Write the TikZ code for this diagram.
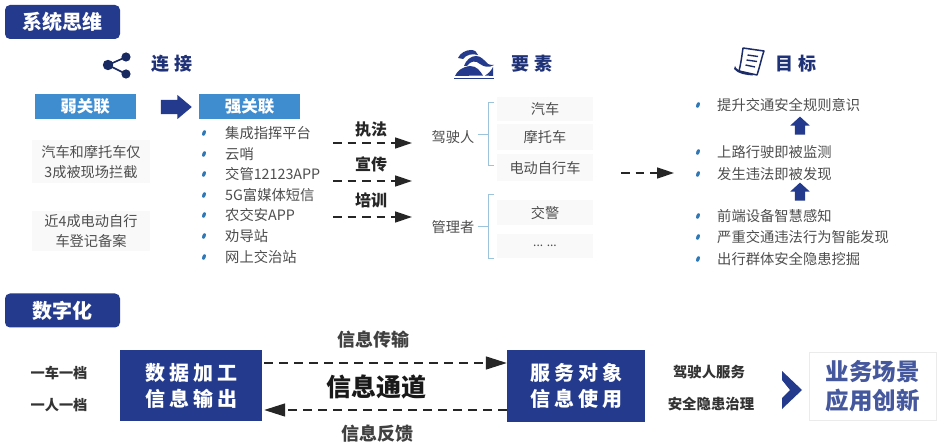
\documentclass[tikz,border=0pt]{standalone}
\usepackage{fontspec}
\setmainfont{Noto Sans CJK SC}
\newfontfamily\wide[LetterSpace=30]{Noto Sans CJK SC}
\newfontfamily\widesm[LetterSpace=20]{Noto Sans CJK SC}
\usetikzlibrary{arrows.meta,shapes.geometric,shapes.arrows}
\definecolor{navy}{HTML}{243A8C}
\definecolor{skyb}{HTML}{3F8CCF}
\definecolor{bodyt}{HTML}{4E4E4E}
\definecolor{panel}{HTML}{F9F9F9}
\definecolor{brk}{HTML}{9CC3DC}
\definecolor{bul}{HTML}{2F78B8}
\tikzset{
 tagbox/.style={draw=none,fill=navy,rounded corners=5pt,minimum width=115pt,minimum height=34pt,inner sep=0,text=white,font=\fontsize{20}{24}\selectfont\bfseries},
 subbox/.style={fill=skyb,minimum width=101pt,minimum height=25pt,inner sep=0,text=white,font=\fontsize{16.5}{18}\selectfont\bfseries},
 head/.style={text=navy!85!black,inner sep=0,font=\fontsize{18}{22}\selectfont\bfseries\wide},
 item/.style={anchor=west,inner sep=0,text=bodyt,font=\fontsize{14.3}{18}\selectfont},
 body/.style={inner sep=0,text=bodyt,align=center,font=\fontsize{14.2}{20}\selectfont},
 panelbox/.style={fill=panel,inner sep=0,text=bodyt,font=\fontsize{14.2}{18}\selectfont},
 bulletm/.style={ellipse,fill=bul,inner sep=0,minimum width=3.5pt,minimum height=6pt,rotate=-20},
 label/.style={inner sep=0,text=black!85,font=\fontsize{16}{18}\selectfont\bfseries},
 small/.style={inner sep=0,text=black!80,font=\fontsize{14.2}{16}\selectfont\bfseries},
 bigbox/.style={fill=navy,inner sep=0,minimum height=71pt,text=white,align=center,font=\fontsize{20}{26}\selectfont\bfseries\widesm},
 dasharrow/.style={draw=black!85,line width=1.4pt,dash pattern=on 8.5pt off 6pt,-{Triangle[length=17pt,width=11pt]}},
 bigdash/.style={draw=black!85,line width=1.4pt,dash pattern=on 9pt off 6pt,-{Triangle[length=21pt,width=13pt]}},
 brace/.style={draw=brk,line width=1pt},
 blockarrow/.style={single arrow,fill=navy,inner xsep=0,inner ysep=#1,minimum width=0pt},
 uparrow/.style={blockarrow=5pt,minimum height=18pt,single arrow head extend=4.5pt,single arrow tip angle=95,rotate=90},
 chan/.style={inner sep=0,text=black!75,font=\fontsize{18}{20}\selectfont\bfseries},
}
\begin{document}
\begin{tikzpicture}[x=1pt,y=-1pt]
\useasboundingbox[fill=white] (0,0) rectangle (940,446);
% section tags
\node[tagbox] (tagA) at (62.5,22) {系统思维};
\node[tagbox] (tagB) at (62.5,310.5) {数字化};
% share icon
\coordinate (sa) at (108,65); \coordinate (sb) at (126,57); \coordinate (sc) at (126,74);
\draw[navy!70!black,line width=1.6pt] (sb) -- (sa) -- (sc);
\fill[navy!70!black] (sa) circle (5.2) (sb) circle (4.6) (sc) circle (4.6);
\node[head] (hA) at (172,64) {连接};
% landscape icon
\begin{scope}[navy]
\fill (458,58) .. controls (460,53) and (466,50) .. (471,50) .. controls (475,50) and (477,52) .. (478,55) .. controls (472,53) and (466,55) .. (463,59) -- cycle;
\fill (464,66) .. controls (466,60) and (471,56) .. (476,56) .. controls (481,56) and (484,60) .. (488,64) .. controls (490,65) and (492,65) .. (494,65) .. controls (489,68) and (484,67) .. (480,64) .. controls (476,60) and (470,61) .. (467,66) -- cycle;
\fill (455,76) .. controls (457,71) and (462,67) .. (470,66) .. controls (477,66) and (480,71) .. (483,75.5) -- cycle;
\fill (485,75.5) .. controls (488,74) and (491,71) .. (493,67) -- (493,76) -- cycle;
\draw[line width=.7pt] (454,78) -- (494,78);
\end{scope}
\node[head] (hB) at (532,64) {要素};
% paper icon
\begin{scope}[navy!75!black]
\draw[line width=1.5pt,line join=round] (743,48) -- (764,51) .. controls (762,56) and (760,66) .. (757,75) -- (739,71) .. controls (741,63) and (742,55) .. (743,48) -- cycle;
\fill (735,66) .. controls (736,69) and (739,71) .. (745,72) -- (752,74) -- (753,75.5) .. controls (746,75) and (738,74) .. (734,69) -- cycle;
\draw[line width=1.4pt] (747.5,55) -- (758,56.5) (746.5,60) -- (757,61.5) (745.5,65) -- (755,67);
\end{scope}
\node[head] (hC) at (796,64) {目标};
% weak / strong
\node[subbox] (weak) at (85,106.5) {弱关联};
\node[subbox] (strong) at (249.5,106.5) {强关联};
\node[blockarrow=7pt,minimum height=31pt,single arrow head extend=5pt,single arrow tip angle=80] (wsarrow) at (172,107) {};
\node[fill=panel,minimum width=118pt,minimum height=43pt,inner sep=0] (pa) at (91,162) {};
\node[body] (pat) at (91,162) {汽车和摩托车仅\\3成被现场拦截};
\node[fill=panel,minimum width=118pt,minimum height=40pt,inner sep=0] (pb) at (91,231) {};
\node[body] (pbt) at (91,231) {近4成电动自行\\车登记备案};
% strong list
\foreach \yy/\tt [count=\i] in {133/集成指挥平台,154/云哨,174/交管12123APP,195/5G富媒体短信,215/农交安APP,236/劝导站,257/网上交治站}{
  \node[bulletm] (sb\i) at (204,\yy) {};
  \node[item] (si\i) at (225,\yy) {\tt};
}
% dashed arrows
\coordinate (d1s) at (333,143); \coordinate (d1e) at (412,143);
\coordinate (d2s) at (333,181); \coordinate (d2e) at (412,181);
\coordinate (d3s) at (333,217); \coordinate (d3e) at (412,217);
\draw[dasharrow] (d1s) -- (d1e);
\draw[dasharrow] (d2s) -- (d2e);
\draw[dasharrow] (d3s) -- (d3e);
\node[label] (l1) at (371,129) {执法};
\node[label] (l2) at (371,164) {宣传};
\node[label] (l3) at (371,200) {培训};
% elements
\node[body] (drv) at (453,137) {驾驶人};
\node[body] (mgr) at (453,227) {管理者};
\coordinate (br1) at (488,135); \coordinate (br2) at (488,227);
\draw[brace] (drv.east)++(3,-2) -- (br1);
\draw[brace] (mgr.east)++(3,0) -- (br2);
\draw[brace] (494,103) -- (488,103) -- (488,166) -- (494,166);
\draw[brace] (494,195) -- (488,195) -- (488,259) -- (494,259);
\node[panelbox,minimum width=96pt,minimum height=24pt] (e1) at (545,109) {汽车};
\node[panelbox,minimum width=96pt,minimum height=26pt] (e2) at (545,137) {摩托车};
\node[panelbox,minimum width=96pt,minimum height=27pt] (e3) at (545,168) {电动自行车};
\node[panelbox,minimum width=96pt,minimum height=25pt] (e4) at (545,213) {交警};
\node[panelbox,minimum width=96pt,minimum height=24pt,font=\fontsize{12}{14}\selectfont] (e5) at (545,246) {... ...};
\coordinate (d4s) at (621,173); \coordinate (d4e) at (674,173);
\draw[dasharrow] (d4s) -- (d4e);
% goals
\foreach \yy/\tt [count=\i] in {105/提升交通安全规则意识,152/上路行驶即被监测,174/发生违法即被发现,216/前端设备智慧感知,237/严重交通违法行为智能发现,259/出行群体安全隐患挖掘}{
  \node[bulletm] (gb\i) at (698,\yy) {};
  \node[item] (gi\i) at (717,\yy) {\tt};
}
\node[uparrow] (up1) at (800,128) {};
\node[uparrow] (up2) at (800,194) {};
% digital row
\node[small] (s1) at (59,373) {一车一档};
\node[small] (s2) at (59,405) {一人一档};
\node[bigbox,minimum width=142pt] (boxL) at (191,385.5) {数据加工\\信息输出};
\node[bigbox,minimum width=138pt] (boxR) at (576,386) {服务对象\\信息使用};
\draw[bigdash] ([xshift=2pt,yshift=22.5pt]boxL.east) -- ([yshift=23pt]boxR.west);
\draw[bigdash] ([yshift=-24pt]boxR.west) -- ([xshift=2pt,yshift=-24.5pt]boxL.east);
\node[chan] (t1) at (373,340) {信息传输};
\node[inner sep=0,text=black!90,font=\fontsize{25}{28}\selectfont\bfseries] (t2) at (376,387) {信息通道};
\node[chan] (t3) at (377,434) {信息反馈};
\node[small,font=\fontsize{14.4}{16}\selectfont\bfseries] (s3) at (709,372) {驾驶人服务};
\node[small,font=\fontsize{14.4}{16}\selectfont\bfseries] (s4) at (711,404) {安全隐患治理};
\fill[navy] (782,371) -- (802,390) -- (782,409) -- (782,398) -- (790,390) -- (782,380) -- cycle;
\node[draw=black!8,line width=1pt,fill=white,inner sep=0,minimum width=127pt,minimum height=68pt,text=navy!85,align=center,font=\fontsize{23.5}{29}\selectfont\bfseries] (boxS) at (872.5,386.5) {业务场景\\应用创新};
\end{tikzpicture}
\end{document}
